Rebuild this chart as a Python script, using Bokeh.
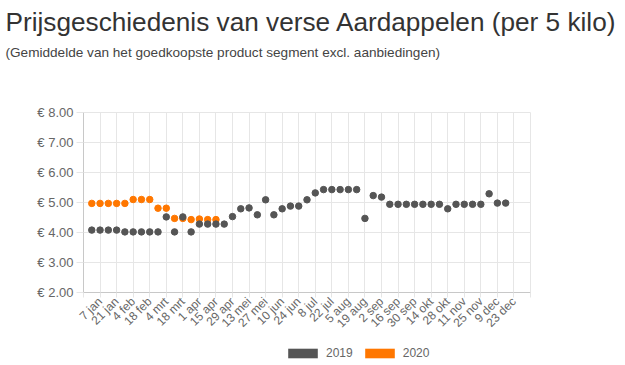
from bokeh.plotting import figure
from bokeh.models import (Range1d, FixedTicker, Title, Legend, LegendItem)
from bokeh.layouts import column
from bokeh.embed import file_html
from bokeh.resources import INLINE

# ---------------- data ----------------
tick_weeks = [1, 3, 5, 7, 9, 11, 13, 15, 17, 19, 21, 23, 25, 27, 29, 31,
              33, 35, 37, 39, 41, 43, 45, 47, 49, 51]
tick_labels = ["7 jan", "21 jan", "4 feb", "18 feb", "4 mrt", "18 mrt",
               "1 apr", "15 apr", "29 apr", "13 mei", "27 mei", "10 jun",
               "24 jun", "8 jul", "22 jul", "5 aug", "19 aug", "2 sep",
               "16 sep", "30 sep", "14 okt", "28 okt", "11 nov", "25 nov",
               "9 dec", "23 dec"]

prices_2019 = [4.08, 4.08, 4.08, 4.08, 4.02, 4.02, 4.02, 4.02, 4.02, 4.52,
               4.02, 4.52, 4.02, 4.28, 4.28, 4.28, 4.28, 4.53, 4.79, 4.82,
               4.59, 5.09, 4.59, 4.79, 4.88, 4.88, 5.09, 5.32, 5.43, 5.43,
               5.43, 5.43, 5.43, 4.47, 5.23, 5.18, 4.94, 4.94, 4.94, 4.94,
               4.94, 4.94, 4.94, 4.79, 4.94, 4.94, 4.94, 4.94, 5.29, 4.98,
               4.98]
prices_2020 = [4.97, 4.97, 4.97, 4.97, 4.97, 5.10, 5.10, 5.10, 4.81, 4.81,
               4.47, 4.47, 4.43, 4.45, 4.43, 4.43]
weeks_2019 = list(range(len(prices_2019)))
weeks_2020 = list(range(len(prices_2020)))

y_ticks = [2, 3, 4, 5, 6, 7, 8]
y_labels = ["€ 2.00", "€ 3.00", "€ 4.00", "€ 5.00", "€ 6.00", "€ 7.00", "€ 8.00"]

series_names = ["2019", "2020"]
series_colors = ["#555555", "#ff7700"]

title_text = "Prijsgeschiedenis van verse Aardappelen (per 5 kilo)"
subtitle_text = "(Gemiddelde van het goedkoopste product segment excl. aanbiedingen)"

FONT = "Liberation Sans"
GRID = "#e6e6e6"

p = figure(frame_width=447, frame_height=180, output_backend="svg",
           toolbar_location=None,
           x_range=Range1d(-1, 53), y_range=Range1d(2, 8),
           min_border_left=83, min_border_right=92,
           min_border_top=112, min_border_bottom=55)
p.outline_line_color = GRID

# points (2020 drawn first so 2019 is on top)
p.scatter(weeks_2020, prices_2020, size=6.5, color=series_colors[1])
p.scatter(weeks_2019, prices_2019, size=6.5, color=series_colors[0])

# axes
grid_x = [-1] + tick_weeks + [53]
p.xaxis.ticker = FixedTicker(ticks=grid_x)
ov = {w: l for w, l in zip(tick_weeks, tick_labels)}
ov[-1] = ""
ov[53] = ""
p.xaxis.major_label_overrides = ov
p.xaxis.major_label_orientation = 0.785398
p.xgrid.ticker = FixedTicker(ticks=grid_x)

p.yaxis.ticker = FixedTicker(ticks=y_ticks)
p.yaxis.major_label_overrides = {t: l for t, l in zip(y_ticks, y_labels)}
p.ygrid.ticker = FixedTicker(ticks=y_ticks)

for ax in (p.xaxis[0], p.yaxis[0]):
    ax.axis_line_color = "#c8c8c8"
    ax.major_tick_line_color = GRID
    ax.minor_tick_line_color = None
    ax.major_tick_in = 0
    ax.major_label_text_color = "#666666"
    ax.major_label_text_font = FONT
p.yaxis.major_tick_out = 7
p.yaxis.major_label_standoff = 3
p.yaxis.major_label_text_font_size = "13px"
p.xaxis.major_tick_out = 5
p.xaxis.major_label_standoff = 2
p.xaxis.major_label_text_font_size = "12px"

p.xgrid.grid_line_color = GRID
p.ygrid.grid_line_color = GRID

# titles, stacked above the frame (first added = closest to frame)
p.add_layout(Title(text=" ", text_font_size="44px", standoff=0), "above")
p.add_layout(Title(text=subtitle_text, text_font=FONT, text_font_size="13.6px",
                   text_font_style="normal", text_color="#444444",
                   vertical_align="top", offset=-78, standoff=0), "above")
p.add_layout(Title(text=title_text, text_font=FONT, text_font_size="26.2px",
                   text_font_style="normal", text_color="#333333",
                   vertical_align="top", offset=-78, standoff=11), "above")

# ---------------- legend strip below the chart ----------------
lg = figure(width=622, height=16, output_backend="svg", toolbar_location=None,
            x_axis_location=None, y_axis_location=None,
            x_range=Range1d(-1, 53), y_range=Range1d(2, 8),
            min_border=0, min_border_left=0, min_border_right=0,
            min_border_top=0, min_border_bottom=0)
lg.outline_line_color = None
lg.grid.visible = False

# zero-area boxes on the series data: invisible, used as legend swatches
q19 = lg.quad(left=weeks_2019, right=weeks_2019, top=prices_2019, bottom=prices_2019,
              fill_color=series_colors[0], line_color=None)
q20 = lg.quad(left=weeks_2020, right=weeks_2020, top=prices_2020, bottom=prices_2020,
              fill_color=series_colors[1], line_color=None)

legend = Legend(items=[LegendItem(label=series_names[0], renderers=[q19]),
                       LegendItem(label=series_names[1], renderers=[q20])],
                location=(201, 3), orientation="horizontal",
                glyph_width=37, glyph_height=12, label_height=12,
                label_standoff=5, spacing=8, padding=0, margin=0,
                border_line_color=None, background_fill_alpha=0,
                label_text_font=FONT, label_text_font_size="12px",
                label_text_color="#666666")
lg.add_layout(legend)

layout = column(p, lg, spacing=0)
open("out.html", "w").write(file_html(layout, INLINE))
